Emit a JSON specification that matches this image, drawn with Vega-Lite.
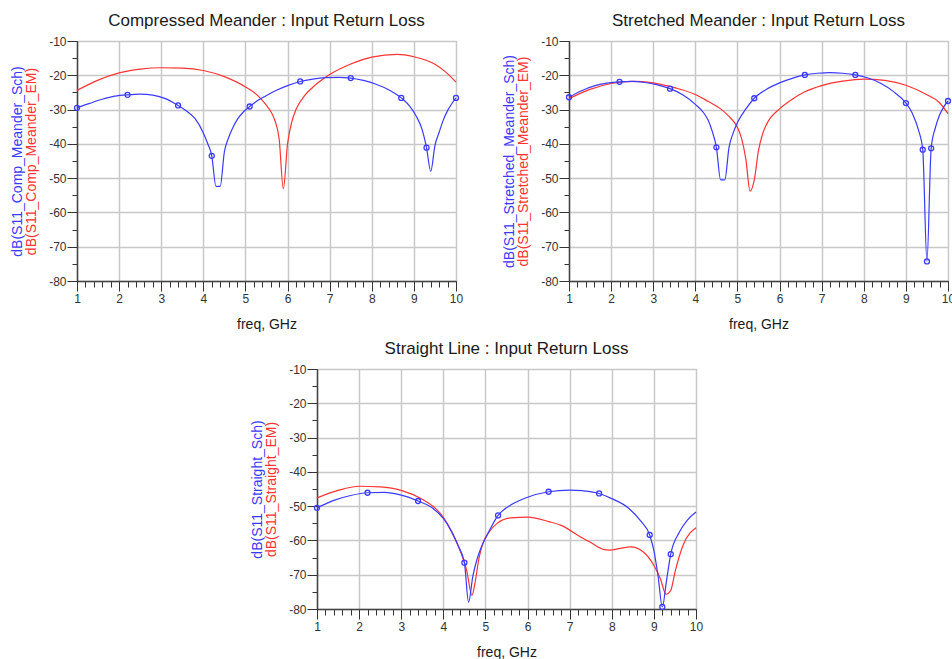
{
  "$schema": "https://vega.github.io/schema/vega-lite/v6.json",
  "padding": {"left": 10, "top": 11, "right": 0, "bottom": 0},
  "autosize": {"type": "pad"},
  "background": "white",
  "spacing": 7,
  "config": {
    "font": "Liberation Sans",
    "view": {"stroke": "#8a8a8a", "strokeWidth": 1},
    "title": {"font": "Liberation Sans", "fontSize": 17, "fontWeight": "normal", "color": "#1a1a1a", "offset": 5, "anchor": "middle"},
    "axis": {"labelFont": "Liberation Sans", "titleFont": "Liberation Sans", "labelFlush": false, "labelOverlap": false, "labelFontSize": 12, "labelColor": "#333333", "titleFontWeight": "normal", "titleFontSize": 14, "tickColor": "#333333", "labelExpr": "replace(datum.label, '−', '-')"},
    "line": {"strokeWidth": 1.2, "interpolate": "monotone"}
  },
  "datasets": {
    "cm": [
      {"s":"S","f":1,"db":-29.5,"m":1},{"s":"S","f":1.3,"db":-28.2},{"s":"S","f":1.6,"db":-27.0},{"s":"S","f":1.9,"db":-26.1},
      {"s":"S","f":2.2,"db":-25.7,"m":1},{"s":"S","f":2.5,"db":-25.5},{"s":"S","f":2.8,"db":-25.8},{"s":"S","f":3.1,"db":-26.8},
      {"s":"S","f":3.4,"db":-28.8,"m":1},{"s":"S","f":3.6,"db":-30.4},{"s":"S","f":3.8,"db":-32.6},{"s":"S","f":4.0,"db":-36.8},
      {"s":"S","f":4.1,"db":-39.8},{"s":"S","f":4.2,"db":-43.5,"m":1},{"s":"S","f":4.3,"db":-52.4},{"s":"S","f":4.4,"db":-52.4},
      {"s":"S","f":4.5,"db":-42.3},{"s":"S","f":4.6,"db":-38.2},{"s":"S","f":4.7,"db":-35.3},{"s":"S","f":4.8,"db":-33.0},
      {"s":"S","f":4.95,"db":-30.7},{"s":"S","f":5.1,"db":-29.1,"m":1},{"s":"S","f":5.3,"db":-27.3},{"s":"S","f":5.5,"db":-25.9},
      {"s":"S","f":5.75,"db":-24.3},{"s":"S","f":6.0,"db":-23.0},{"s":"S","f":6.3,"db":-21.8,"m":1},{"s":"S","f":6.6,"db":-21.1},
      {"s":"S","f":6.9,"db":-20.7},{"s":"S","f":7.2,"db":-20.6},{"s":"S","f":7.5,"db":-20.8,"m":1},{"s":"S","f":7.8,"db":-21.5},
      {"s":"S","f":8.1,"db":-22.6},{"s":"S","f":8.4,"db":-24.2},{"s":"S","f":8.7,"db":-26.6,"m":1},{"s":"S","f":8.9,"db":-29.0},
      {"s":"S","f":9.05,"db":-31.8},{"s":"S","f":9.2,"db":-36.0},{"s":"S","f":9.3,"db":-41.1,"m":1},{"s":"S","f":9.4,"db":-48.0},
      {"s":"S","f":9.5,"db":-40.5},{"s":"S","f":9.6,"db":-36.6},{"s":"S","f":9.7,"db":-33.0},{"s":"S","f":9.8,"db":-30.3},
      {"s":"S","f":9.9,"db":-28.3},{"s":"S","f":10,"db":-26.6,"m":1},
      {"s":"E","f":1,"db":-24.4},{"s":"E","f":1.5,"db":-21.4},{"s":"E","f":2,"db":-19.3},{"s":"E","f":2.5,"db":-18.2},
      {"s":"E","f":3,"db":-17.8},{"s":"E","f":3.5,"db":-17.9},{"s":"E","f":4,"db":-18.6},{"s":"E","f":4.5,"db":-20.4},
      {"s":"E","f":5,"db":-23.4},{"s":"E","f":5.3,"db":-26.0},{"s":"E","f":5.5,"db":-28.8},{"s":"E","f":5.6,"db":-30.5},
      {"s":"E","f":5.7,"db":-33.2},{"s":"E","f":5.8,"db":-38.5},{"s":"E","f":5.9,"db":-53.1},{"s":"E","f":6.0,"db":-40.0},
      {"s":"E","f":6.1,"db":-33.6},{"s":"E","f":6.2,"db":-30.0},{"s":"E","f":6.4,"db":-26.0},{"s":"E","f":6.6,"db":-23.5},
      {"s":"E","f":7.0,"db":-19.8},{"s":"E","f":7.5,"db":-16.7},{"s":"E","f":8.0,"db":-14.7},{"s":"E","f":8.6,"db":-13.9},
      {"s":"E","f":9.0,"db":-14.6},{"s":"E","f":9.5,"db":-16.8},{"s":"E","f":9.75,"db":-19.0},{"s":"E","f":10,"db":-22.0}
    ],
    "sm": [
      {"s":"S","f":1,"db":-26.4,"m":1},{"s":"S","f":1.3,"db":-24.5},{"s":"S","f":1.6,"db":-23.1},{"s":"S","f":1.9,"db":-22.3},
      {"s":"S","f":2.2,"db":-21.9,"m":1},{"s":"S","f":2.5,"db":-21.8},{"s":"S","f":2.8,"db":-22.1},{"s":"S","f":3.1,"db":-22.8},
      {"s":"S","f":3.4,"db":-23.9,"m":1},{"s":"S","f":3.7,"db":-25.7},{"s":"S","f":4.0,"db":-28.5},{"s":"S","f":4.2,"db":-31.0},
      {"s":"S","f":4.3,"db":-33.0},{"s":"S","f":4.4,"db":-36.3},{"s":"S","f":4.5,"db":-41.0,"m":1},{"s":"S","f":4.6,"db":-50.5},
      {"s":"S","f":4.7,"db":-50.5},{"s":"S","f":4.8,"db":-41.0},{"s":"S","f":4.9,"db":-36.8},{"s":"S","f":5.0,"db":-33.8},
      {"s":"S","f":5.2,"db":-29.8},{"s":"S","f":5.4,"db":-26.7,"m":1},{"s":"S","f":5.7,"db":-24.0},{"s":"S","f":6.0,"db":-22.2},
      {"s":"S","f":6.3,"db":-20.9},{"s":"S","f":6.6,"db":-19.9,"m":1},{"s":"S","f":6.9,"db":-19.4},{"s":"S","f":7.2,"db":-19.2},
      {"s":"S","f":7.5,"db":-19.4},{"s":"S","f":7.8,"db":-19.9,"m":1},{"s":"S","f":8.1,"db":-20.8},{"s":"S","f":8.4,"db":-22.3},
      {"s":"S","f":8.7,"db":-24.7},{"s":"S","f":9.0,"db":-28.1,"m":1},{"s":"S","f":9.15,"db":-31.0},{"s":"S","f":9.3,"db":-36.0},
      {"s":"S","f":9.4,"db":-41.7,"m":1},{"s":"S","f":9.5,"db":-74.3,"m":1},{"s":"S","f":9.6,"db":-41.3,"m":1},{"s":"S","f":9.7,"db":-35.3},
      {"s":"S","f":9.8,"db":-31.6},{"s":"S","f":9.9,"db":-29.2},{"s":"S","f":10,"db":-27.5,"m":1},
      {"s":"E","f":1,"db":-26.8},{"s":"E","f":1.5,"db":-24.1},{"s":"E","f":2,"db":-22.4},{"s":"E","f":2.5,"db":-21.8},
      {"s":"E","f":3,"db":-22.2},{"s":"E","f":3.5,"db":-23.6},{"s":"E","f":4.0,"db":-25.6},{"s":"E","f":4.3,"db":-27.6},
      {"s":"E","f":4.6,"db":-29.8},{"s":"E","f":4.8,"db":-32.0},{"s":"E","f":5.0,"db":-35.2},{"s":"E","f":5.1,"db":-38.5},
      {"s":"E","f":5.2,"db":-44.5},{"s":"E","f":5.3,"db":-53.8},{"s":"E","f":5.4,"db":-50.5},{"s":"E","f":5.5,"db":-41.9},
      {"s":"E","f":5.6,"db":-37.0},{"s":"E","f":5.7,"db":-34.1},{"s":"E","f":6.0,"db":-29.8},{"s":"E","f":6.3,"db":-27.0},
      {"s":"E","f":6.6,"db":-24.8},{"s":"E","f":7.0,"db":-23.0},{"s":"E","f":7.5,"db":-21.7},{"s":"E","f":8.0,"db":-21.1},
      {"s":"E","f":8.5,"db":-21.5},{"s":"E","f":9.0,"db":-22.9},{"s":"E","f":9.5,"db":-25.7},{"s":"E","f":9.8,"db":-28.0},
      {"s":"E","f":10,"db":-31.2}
    ],
    "sl": [
      {"s":"S","f":1,"db":-50.5,"m":1},{"s":"S","f":1.4,"db":-48.3},{"s":"S","f":1.8,"db":-46.9},{"s":"S","f":2.2,"db":-46.1,"m":1},
      {"s":"S","f":2.6,"db":-46.0},{"s":"S","f":3.0,"db":-46.8},{"s":"S","f":3.4,"db":-48.5,"m":1},{"s":"S","f":3.7,"db":-50.2},
      {"s":"S","f":4.0,"db":-53.6},{"s":"S","f":4.2,"db":-57.5},{"s":"S","f":4.35,"db":-61.5},{"s":"S","f":4.5,"db":-66.5,"m":1},
      {"s":"S","f":4.6,"db":-78.0},{"s":"S","f":4.7,"db":-70.5},{"s":"S","f":4.8,"db":-65.5},{"s":"S","f":4.9,"db":-62.0},
      {"s":"S","f":5.05,"db":-58.2},{"s":"S","f":5.3,"db":-52.7,"m":1},{"s":"S","f":5.6,"db":-49.7},{"s":"S","f":6.0,"db":-47.4},
      {"s":"S","f":6.5,"db":-45.8,"m":1},{"s":"S","f":7.0,"db":-45.3},{"s":"S","f":7.3,"db":-45.5},{"s":"S","f":7.7,"db":-46.3,"m":1},
      {"s":"S","f":8.0,"db":-47.8},{"s":"S","f":8.4,"db":-50.6},{"s":"S","f":8.7,"db":-54.5},{"s":"S","f":8.9,"db":-58.4,"m":1},
      {"s":"S","f":9.0,"db":-63.0},{"s":"S","f":9.1,"db":-70.5},{"s":"S","f":9.2,"db":-79.4,"m":1},{"s":"S","f":9.3,"db":-71.7},
      {"s":"S","f":9.4,"db":-64.0,"m":1},{"s":"S","f":9.6,"db":-57.7},{"s":"S","f":9.8,"db":-54.0},{"s":"S","f":10,"db":-51.7},
      {"s":"E","f":1,"db":-47.6},{"s":"E","f":1.5,"db":-45.4},{"s":"E","f":2,"db":-44.2},{"s":"E","f":2.5,"db":-44.4},
      {"s":"E","f":3,"db":-45.4},{"s":"E","f":3.5,"db":-48.0},{"s":"E","f":3.8,"db":-50.5},{"s":"E","f":4.0,"db":-53.3},
      {"s":"E","f":4.2,"db":-57.5},{"s":"E","f":4.4,"db":-63.0},{"s":"E","f":4.55,"db":-68.5},{"s":"E","f":4.68,"db":-76.0},
      {"s":"E","f":4.75,"db":-72.5},{"s":"E","f":4.85,"db":-65.0},{"s":"E","f":4.95,"db":-60.5},{"s":"E","f":5.1,"db":-57.3},
      {"s":"E","f":5.27,"db":-55.1},{"s":"E","f":5.6,"db":-53.4},{"s":"E","f":6.0,"db":-53.2},{"s":"E","f":6.5,"db":-54.5},
      {"s":"E","f":6.8,"db":-55.6},{"s":"E","f":7.25,"db":-58.9},{"s":"E","f":7.5,"db":-60.6},{"s":"E","f":7.8,"db":-62.6},
      {"s":"E","f":7.95,"db":-62.8},{"s":"E","f":8.2,"db":-62.3},{"s":"E","f":8.45,"db":-61.9},{"s":"E","f":8.75,"db":-63.4},
      {"s":"E","f":9.0,"db":-67.3},{"s":"E","f":9.15,"db":-71.0},{"s":"E","f":9.29,"db":-75.7},{"s":"E","f":9.4,"db":-74.6},
      {"s":"E","f":9.5,"db":-69.3},{"s":"E","f":9.7,"db":-61.2},{"s":"E","f":10,"db":-56.3}
    ]
  },
  "vconcat": [
    {
      "bounds": "flush",
      "spacing": 113,
      "hconcat": [
        {
          "width": 379, "height": 240,
          "title": "Compressed Meander : Input Return Loss",
          "data": {"name": "cm"},
          "layer": [
            {
              "transform": [{"filter": "datum.s === 'E'"}],
              "mark": {"type": "line", "color": "#ff3333"},
              "encoding": {
                "x": {"field": "f", "type": "quantitative", "scale": {"domain": [1, 10], "nice": false, "zero": false},
                      "axis": {"orient": "bottom", "tickCount": 45, "grid": false, "labels": false, "domain": false, "tickSize": 6, "title": null}},
                "y": {"field": "db", "type": "quantitative", "scale": {"domain": [-80, -10], "nice": false, "zero": false},
                      "axis": {"orient": "left", "tickCount": 14, "grid": false, "labels": false, "domain": false, "tickSize": 5, "title": "dB(S11_Comp_Meander_EM)", "titleColor": "#ff3333", "titlePadding": 33}}
              }
            },
            {
              "transform": [{"filter": "datum.s === 'S'"}],
              "mark": {"type": "line", "color": "#3a3aff"},
              "encoding": {
                "x": {"field": "f", "type": "quantitative",
                      "axis": {"orient": "bottom", "tickCount": 9, "grid": true, "gridColor": "#c8c8c8", "gridWidth": 1.5, "tickSize": 10, "domainColor": "#444444", "domainWidth": 1.5, "labelPadding": 2, "title": "freq, GHz", "titleColor": "#1a1a1a", "titlePadding": 13}},
                "y": {"field": "db", "type": "quantitative",
                      "axis": {"orient": "left", "tickCount": 7, "grid": true, "gridColor": "#c8c8c8", "gridWidth": 1.5, "tickSize": 10, "domainColor": "#444444", "domainWidth": 1.5, "labelPadding": 1, "title": "dB(S11_Comp_Meander_Sch)", "titleColor": "#3a3aff", "titlePadding": 24}}
              }
            },
            {
              "transform": [{"filter": "datum.s === 'S' && datum.m === 1"}],
              "mark": {"type": "point", "shape": "circle", "filled": false, "color": "#3a3aff", "size": 25, "strokeWidth": 1.3, "opacity": 1},
              "encoding": {
                "x": {"field": "f", "type": "quantitative", "axis": null},
                "y": {"field": "db", "type": "quantitative", "axis": null}
              }
            }
          ],
          "resolve": {"axis": {"x": "independent", "y": "independent"}}
        },
        {
          "width": 379, "height": 240,
          "title": "Stretched Meander : Input Return Loss",
          "data": {"name": "sm"},
          "layer": [
            {
              "transform": [{"filter": "datum.s === 'E'"}],
              "mark": {"type": "line", "color": "#ff3333"},
              "encoding": {
                "x": {"field": "f", "type": "quantitative", "scale": {"domain": [1, 10], "nice": false, "zero": false},
                      "axis": {"orient": "bottom", "tickCount": 45, "grid": false, "labels": false, "domain": false, "tickSize": 6, "title": null}},
                "y": {"field": "db", "type": "quantitative", "scale": {"domain": [-80, -10], "nice": false, "zero": false},
                      "axis": {"orient": "left", "tickCount": 14, "grid": false, "labels": false, "domain": false, "tickSize": 5, "title": "dB(S11_Stretched_Meander_EM)", "titleColor": "#ff3333", "titlePadding": 33}}
              }
            },
            {
              "transform": [{"filter": "datum.s === 'S'"}],
              "mark": {"type": "line", "color": "#3a3aff"},
              "encoding": {
                "x": {"field": "f", "type": "quantitative",
                      "axis": {"orient": "bottom", "tickCount": 9, "grid": true, "gridColor": "#c8c8c8", "gridWidth": 1.5, "tickSize": 10, "domainColor": "#444444", "domainWidth": 1.5, "labelPadding": 2, "title": "freq, GHz", "titleColor": "#1a1a1a", "titlePadding": 13}},
                "y": {"field": "db", "type": "quantitative",
                      "axis": {"orient": "left", "tickCount": 7, "grid": true, "gridColor": "#c8c8c8", "gridWidth": 1.5, "tickSize": 10, "domainColor": "#444444", "domainWidth": 1.5, "labelPadding": 1, "title": "dB(S11_Stretched_Meander_Sch)", "titleColor": "#3a3aff", "titlePadding": 24}}
              }
            },
            {
              "transform": [{"filter": "datum.s === 'S' && datum.m === 1"}],
              "mark": {"type": "point", "shape": "circle", "filled": false, "color": "#3a3aff", "size": 25, "strokeWidth": 1.3, "opacity": 1},
              "encoding": {
                "x": {"field": "f", "type": "quantitative", "axis": null},
                "y": {"field": "db", "type": "quantitative", "axis": null}
              }
            }
          ],
          "resolve": {"axis": {"x": "independent", "y": "independent"}}
        }
      ]
    },
    {
      "bounds": "flush",
      "spacing": 0,
      "hconcat": [
        {
          "width": 240, "height": 240,
          "view": {"stroke": null},
          "data": {"values": [{}]},
          "mark": {"type": "text"},
          "encoding": {"text": {"value": ""}}
        },
        {
          "width": 379, "height": 240,
          "title": "Straight Line : Input Return Loss",
          "data": {"name": "sl"},
          "layer": [
            {
              "transform": [{"filter": "datum.s === 'E'"}],
              "mark": {"type": "line", "color": "#ff3333"},
              "encoding": {
                "x": {"field": "f", "type": "quantitative", "scale": {"domain": [1, 10], "nice": false, "zero": false},
                      "axis": {"orient": "bottom", "tickCount": 45, "grid": false, "labels": false, "domain": false, "tickSize": 6, "title": null}},
                "y": {"field": "db", "type": "quantitative", "scale": {"domain": [-80, -10], "nice": false, "zero": false},
                      "axis": {"orient": "left", "tickCount": 14, "grid": false, "labels": false, "domain": false, "tickSize": 5, "title": "dB(S11_Straight_EM)", "titleColor": "#ff3333", "titlePadding": 33}}
              }
            },
            {
              "transform": [{"filter": "datum.s === 'S'"}],
              "mark": {"type": "line", "color": "#3a3aff"},
              "encoding": {
                "x": {"field": "f", "type": "quantitative",
                      "axis": {"orient": "bottom", "tickCount": 9, "grid": true, "gridColor": "#c8c8c8", "gridWidth": 1.5, "tickSize": 10, "domainColor": "#444444", "domainWidth": 1.5, "labelPadding": 2, "title": "freq, GHz", "titleColor": "#1a1a1a", "titlePadding": 13}},
                "y": {"field": "db", "type": "quantitative",
                      "axis": {"orient": "left", "tickCount": 7, "grid": true, "gridColor": "#c8c8c8", "gridWidth": 1.5, "tickSize": 10, "domainColor": "#444444", "domainWidth": 1.5, "labelPadding": 1, "title": "dB(S11_Straight_Sch)", "titleColor": "#3a3aff", "titlePadding": 24}}
              }
            },
            {
              "transform": [{"filter": "datum.s === 'S' && datum.m === 1"}],
              "mark": {"type": "point", "shape": "circle", "filled": false, "color": "#3a3aff", "size": 25, "strokeWidth": 1.3, "opacity": 1},
              "encoding": {
                "x": {"field": "f", "type": "quantitative", "axis": null},
                "y": {"field": "db", "type": "quantitative", "axis": null}
              }
            }
          ],
          "resolve": {"axis": {"x": "independent", "y": "independent"}}
        }
      ]
    }
  ]
}
